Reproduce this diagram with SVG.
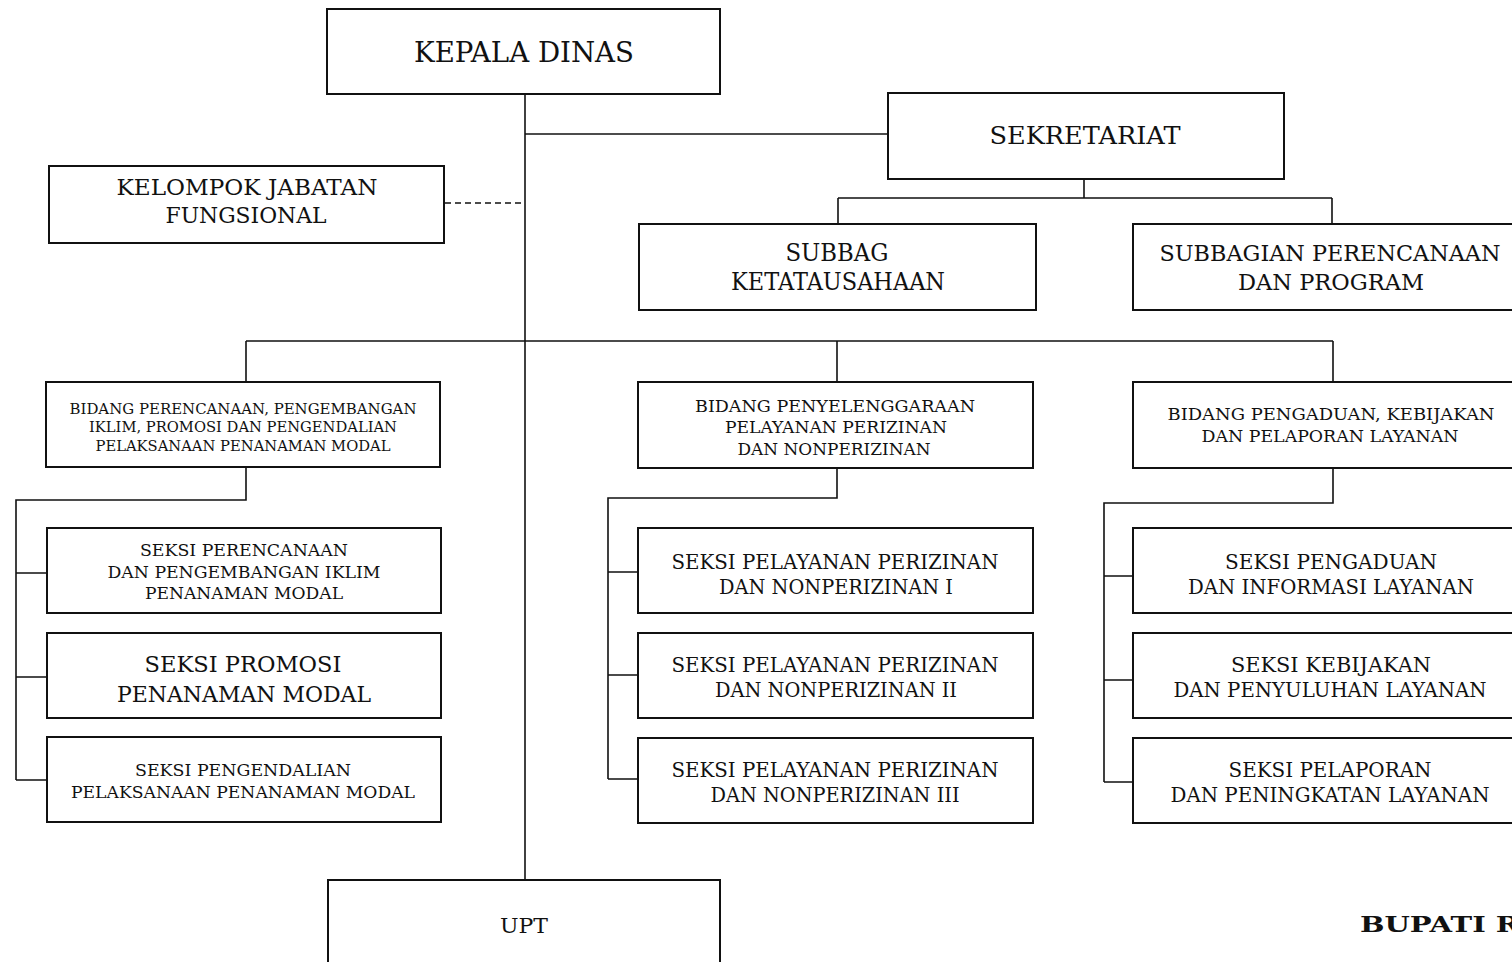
<svg xmlns="http://www.w3.org/2000/svg" width="1512" height="962" viewBox="0 0 1512 962">
<style>
.box{fill:#fff;stroke:#111;stroke-width:2}
.ln{fill:none;stroke:#111;stroke-width:1.6}
.dash{fill:none;stroke:#111;stroke-width:1.6;stroke-dasharray:6 4}
text{font-family:"DejaVu Serif","Liberation Serif",serif;fill:#111;text-anchor:middle}
.b{font-weight:bold;text-anchor:start}
</style>
<rect width="1512" height="962" fill="#fff"/>
<g id="connectors">
<path class="ln" d="M525 94V880"/>
<path class="ln" d="M525 134H888"/>
<path class="dash" d="M445 203H525"/>
<path class="ln" d="M1084 179V198M838 198H1332M838 198V224M1332 198V224"/>
<path class="ln" d="M246 341H1333M246 341V382M837 341V382M1333 341V382"/>
<path class="ln" d="M246 467V500H16V780M16 573H47M16 677H47M16 780H47"/>
<path class="ln" d="M837 468V498H608V779M608 572H638M608 675H638M608 779H638"/>
<path class="ln" d="M1333 468V503H1104V782M1104 576H1133M1104 680H1133M1104 782H1133"/>
</g>
<g id="kepala"><rect class="box" x="327" y="9" width="393" height="85"/><text x="524" y="62" font-size="27" textLength="220" lengthAdjust="spacingAndGlyphs">KEPALA DINAS</text></g>
<g id="sekretariat"><rect class="box" x="888" y="93" width="396" height="86"/><text x="1085" y="144" font-size="25" textLength="191" lengthAdjust="spacingAndGlyphs">SEKRETARIAT</text></g>
<g id="jafung"><rect class="box" x="49" y="166" width="395" height="77"/><text x="247" y="195" font-size="22" textLength="261" lengthAdjust="spacingAndGlyphs">KELOMPOK JABATAN</text><text x="246" y="223" font-size="22" textLength="161" lengthAdjust="spacingAndGlyphs">FUNGSIONAL</text></g>
<g id="subbag-tu"><rect class="box" x="639" y="224" width="397" height="86"/><text x="837" y="261" font-size="24" textLength="103" lengthAdjust="spacingAndGlyphs">SUBBAG</text><text x="838" y="290" font-size="24" textLength="214" lengthAdjust="spacingAndGlyphs">KETATAUSAHAAN</text></g>
<g id="subbag-prog"><rect class="box" x="1133" y="224" width="396" height="86"/><text x="1330" y="261" font-size="22.5" textLength="341" lengthAdjust="spacingAndGlyphs">SUBBAGIAN PERENCANAAN</text><text x="1331" y="290" font-size="23" textLength="186" lengthAdjust="spacingAndGlyphs">DAN PROGRAM</text></g>
<g id="bidang1"><rect class="box" x="46" y="382" width="394" height="85"/><text x="243" y="414" font-size="14.5" textLength="347" lengthAdjust="spacingAndGlyphs">BIDANG PERENCANAAN, PENGEMBANGAN</text><text x="243" y="432" font-size="14.5" textLength="308" lengthAdjust="spacingAndGlyphs">IKLIM, PROMOSI DAN PENGENDALIAN</text><text x="243" y="451" font-size="14.5" textLength="295" lengthAdjust="spacingAndGlyphs">PELAKSANAAN PENANAMAN MODAL</text></g>
<g id="bidang2"><rect class="box" x="638" y="382" width="395" height="86"/><text x="835" y="412" font-size="17" textLength="280" lengthAdjust="spacingAndGlyphs">BIDANG PENYELENGGARAAN</text><text x="836" y="433" font-size="17" textLength="222" lengthAdjust="spacingAndGlyphs">PELAYANAN PERIZINAN</text><text x="834" y="455" font-size="17" textLength="193" lengthAdjust="spacingAndGlyphs">DAN NONPERIZINAN</text></g>
<g id="bidang3"><rect class="box" x="1133" y="382" width="396" height="86"/><text x="1331" y="420" font-size="17" textLength="327" lengthAdjust="spacingAndGlyphs">BIDANG PENGADUAN, KEBIJAKAN</text><text x="1330" y="442" font-size="17" textLength="257" lengthAdjust="spacingAndGlyphs">DAN PELAPORAN LAYANAN</text></g>
<g id="seksi-l1"><rect class="box" x="47" y="528" width="394" height="85"/><text x="244" y="556" font-size="16" textLength="208" lengthAdjust="spacingAndGlyphs">SEKSI PERENCANAAN</text><text x="244" y="578" font-size="16" textLength="273" lengthAdjust="spacingAndGlyphs">DAN PENGEMBANGAN IKLIM</text><text x="244" y="599" font-size="16" textLength="198" lengthAdjust="spacingAndGlyphs">PENANAMAN MODAL</text></g>
<g id="seksi-l2"><rect class="box" x="47" y="633" width="394" height="85"/><text x="243" y="672" font-size="22" textLength="197" lengthAdjust="spacingAndGlyphs">SEKSI PROMOSI</text><text x="244" y="702" font-size="22" textLength="254" lengthAdjust="spacingAndGlyphs">PENANAMAN MODAL</text></g>
<g id="seksi-l3"><rect class="box" x="47" y="737" width="394" height="85"/><text x="243" y="776" font-size="16.5" textLength="216" lengthAdjust="spacingAndGlyphs">SEKSI PENGENDALIAN</text><text x="243" y="798" font-size="16.5" textLength="344" lengthAdjust="spacingAndGlyphs">PELAKSANAAN PENANAMAN MODAL</text></g>
<g id="seksi-m1"><rect class="box" x="638" y="528" width="395" height="85"/><text x="835" y="569" font-size="20" textLength="327" lengthAdjust="spacingAndGlyphs">SEKSI PELAYANAN PERIZINAN</text><text x="836" y="594" font-size="20" textLength="234" lengthAdjust="spacingAndGlyphs">DAN NONPERIZINAN I</text></g>
<g id="seksi-m2"><rect class="box" x="638" y="633" width="395" height="85"/><text x="835" y="672" font-size="20" textLength="327" lengthAdjust="spacingAndGlyphs">SEKSI PELAYANAN PERIZINAN</text><text x="836" y="697" font-size="20" textLength="242" lengthAdjust="spacingAndGlyphs">DAN NONPERIZINAN II</text></g>
<g id="seksi-m3"><rect class="box" x="638" y="738" width="395" height="85"/><text x="835" y="777" font-size="20" textLength="327" lengthAdjust="spacingAndGlyphs">SEKSI PELAYANAN PERIZINAN</text><text x="835" y="802" font-size="20" textLength="249" lengthAdjust="spacingAndGlyphs">DAN NONPERIZINAN III</text></g>
<g id="seksi-r1"><rect class="box" x="1133" y="528" width="396" height="85"/><text x="1331" y="569" font-size="20" textLength="212" lengthAdjust="spacingAndGlyphs">SEKSI PENGADUAN</text><text x="1331" y="594" font-size="20" textLength="286" lengthAdjust="spacingAndGlyphs">DAN INFORMASI LAYANAN</text></g>
<g id="seksi-r2"><rect class="box" x="1133" y="633" width="396" height="85"/><text x="1331" y="672" font-size="20" textLength="200" lengthAdjust="spacingAndGlyphs">SEKSI KEBIJAKAN</text><text x="1330" y="697" font-size="20" textLength="313" lengthAdjust="spacingAndGlyphs">DAN PENYULUHAN LAYANAN</text></g>
<g id="seksi-r3"><rect class="box" x="1133" y="738" width="396" height="85"/><text x="1330" y="777" font-size="20" textLength="203" lengthAdjust="spacingAndGlyphs">SEKSI PELAPORAN</text><text x="1330" y="802" font-size="20" textLength="319" lengthAdjust="spacingAndGlyphs">DAN PENINGKATAN LAYANAN</text></g>
<g id="upt"><rect class="box" x="328" y="880" width="392" height="100"/><text x="524" y="933" font-size="20" textLength="48" lengthAdjust="spacingAndGlyphs">UPT</text></g>
<text class="b" x="1360" y="932" font-size="22" textLength="160" lengthAdjust="spacingAndGlyphs">BUPATI R</text>
</svg>
